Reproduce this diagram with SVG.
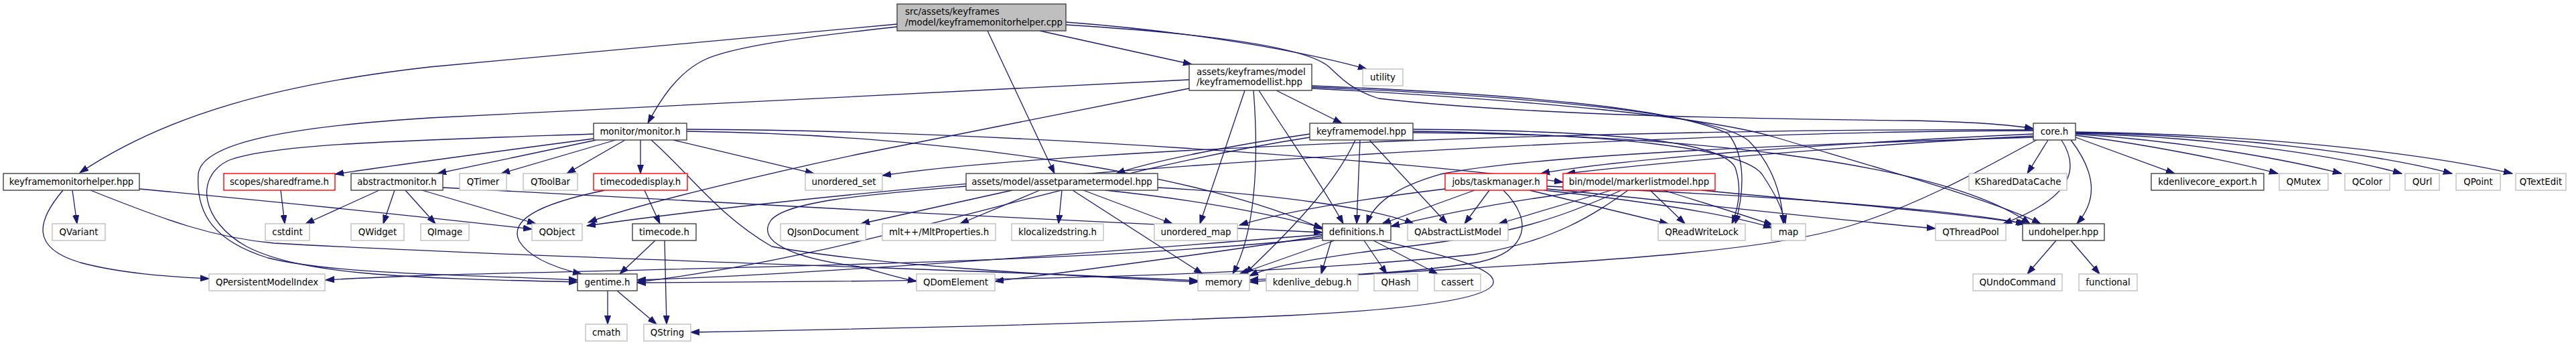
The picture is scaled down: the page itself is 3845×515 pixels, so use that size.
<svg xmlns="http://www.w3.org/2000/svg" width="3845" height="515" viewBox="0 0 3845 515">
<style>
rect{stroke-width:1.4}
.d{fill:#fff;stroke:#404040}
.x{fill:#fff;stroke:#bfbfbf}
.r{fill:#fff;stroke:#ff0000}
.m{fill:#bfbfbf;stroke:#404040}
text{font-family:"DejaVu Sans",sans-serif;font-size:13.33px;fill:#000;text-anchor:middle}
text.l{text-anchor:start}
#edges path{fill:none;stroke:#191970;stroke-width:1.3;marker-end:url(#a)}
</style>
<defs>
<marker id="a" markerWidth="14" markerHeight="10" refX="13" refY="5" orient="auto" markerUnits="userSpaceOnUse"><path d="M0,0.5 L13,5 L0,9.5 z" fill="#191970" stroke="#191970" stroke-width="1"/></marker>
</defs>
<rect width="3845" height="515" fill="#fff"/>
<g id="edges">
<path d="M1339,36 L641,100 C420,125 250,170 119,258"/>
<path d="M1339,40 C1200,55 1090,70 1050,90 C1010,110 985,150 967,184"/>
<path d="M1552,46 L1779,96"/>
<path d="M1474,46 L1574,259"/>
<path d="M1591,33 C1750,45 1920,70 2040,103"/>
<path d="M1591,37 C1800,50 1950,70 1984,100 C2005,120 2020,135 2058,147 C2300,175 2700,178 2850,180 C2950,182 3000,186 3035,192"/>
<path d="M108,284 L115,334"/>
<path d="M94,284 C55,330 45,370 120,392 C180,408 250,413 312,416"/>
<path d="M208,282 C400,300 600,320 794,342"/>
<path d="M135,284 C250,330 320,355 409,363 C800,385 1400,400 1788,419"/>
<path d="M886,207 C750,225 600,245 500,260"/>
<path d="M890,209 L653,259"/>
<path d="M919,209 L748,259"/>
<path d="M933,209 L846,259"/>
<path d="M956,209 L956,259"/>
<path d="M1005,209 L1215,259"/>
<path d="M972,209 C1030,260 1070,320 1152,368 C1300,395 1550,410 1788,421"/>
<path d="M1025,196 C1400,200 1800,260 1974,342"/>
<path d="M1025,193 C1500,195 2100,240 2333,272"/>
<path d="M886,200 C600,210 400,215 340,240 C290,265 300,330 368,368 C450,410 600,415 862,421"/>
<path d="M419,284 L425,334"/>
<path d="M566,284 L456,334"/>
<path d="M589,284 L572,334"/>
<path d="M605,284 L650,334"/>
<path d="M630,284 L800,334"/>
<path d="M661,280 C1000,300 1600,330 1974,347"/>
<path d="M962,284 L985,334"/>
<path d="M903,284 C800,305 760,330 775,360 C790,385 830,400 868,409"/>
<path d="M978,359 L925,409"/>
<path d="M992,359 L995,484"/>
<path d="M907,434 L907,484"/>
<path d="M921,434 L980,484"/>
<path d="M1905,135 L2003,184"/>
<path d="M1879,135 C1920,200 1970,270 2005,334"/>
<path d="M1871,135 C1880,250 1872,350 1840,409"/>
<path d="M1858,135 L1791,334"/>
<path d="M1775,132 L1282,230 C1150,258 950,305 878,332"/>
<path d="M1775,119 C1300,140 900,160 641,176 C420,190 300,215 296,260 C292,320 320,360 400,385 C500,410 700,410 862,418"/>
<path d="M1958,132 C2300,150 2550,175 2650,205 C2800,250 2980,300 3046,334"/>
<path d="M1958,128 C2250,140 2500,160 2580,200 C2610,240 2600,300 2590,334"/>
<path d="M1958,130 C2300,145 2560,170 2610,210 C2650,250 2660,300 2662,334"/>
<path d="M1955,200 C1850,215 1720,240 1666,259"/>
<path d="M2030,209 L2025,334"/>
<path d="M2044,209 L2160,334"/>
<path d="M2023,209 C1990,280 1920,350 1858,409"/>
<path d="M1955,205 C1600,260 1300,380 951,421"/>
<path d="M2109,198 C2500,200 2900,240 3030,334"/>
<path d="M2109,193 C2400,195 2570,210 2590,250 C2600,280 2595,310 2585,334"/>
<path d="M2109,196 C2400,200 2600,220 2630,260 C2650,290 2660,310 2665,334"/>
<path d="M1511,284 L1285,334"/>
<path d="M1552,284 L1433,334"/>
<path d="M1585,284 L1580,334"/>
<path d="M1617,284 L1750,334"/>
<path d="M1601,284 L1795,409"/>
<path d="M1650,284 C1800,300 1900,320 1974,340"/>
<path d="M1442,278 C1300,290 1170,300 1150,330 C1130,360 1180,385 1282,398 C1310,405 1340,415 1368,420"/>
<path d="M1728,280 C1900,290 2050,310 2110,334"/>
<path d="M3035,200 C2700,215 2400,240 2300,259"/>
<path d="M3035,203 C2800,215 2500,240 2338,259"/>
<path d="M3035,205 C2700,215 2300,230 2150,260 C2080,280 2050,305 2040,334"/>
<path d="M3035,195 C2500,195 1500,250 876,337"/>
<path d="M3035,194 C2500,190 1600,220 1317,262"/>
<path d="M3040,209 C2980,240 2880,300 2768,335 C2600,390 2200,395 1865,421"/>
<path d="M3057,209 L3026,259"/>
<path d="M3077,209 C3110,260 3080,300 2990,334"/>
<path d="M3091,209 C3130,260 3130,300 3100,334"/>
<path d="M3098,205 L3246,259"/>
<path d="M3098,202 C3200,215 3330,240 3400,259"/>
<path d="M3098,200 C3250,210 3400,235 3495,259"/>
<path d="M3098,199 C3300,205 3480,230 3585,259"/>
<path d="M3098,198 C3330,202 3540,228 3660,259"/>
<path d="M3098,197 C3350,200 3600,225 3750,259"/>
<path d="M2201,284 L2063,334"/>
<path d="M2223,284 L2186,334"/>
<path d="M2283,284 L2490,334"/>
<path d="M2309,282 C2500,300 2700,325 2889,341"/>
<path d="M2309,278 C2600,290 2900,310 3022,334"/>
<path d="M2244,284 C2290,330 2280,375 2209,391 C2100,410 1950,412 1865,418"/>
<path d="M2305,284 C2450,300 2580,320 2645,340"/>
<path d="M2157,282 C2050,295 1930,312 1850,336"/>
<path d="M2377,284 C2250,300 2150,320 2076,338"/>
<path d="M2405,284 L2237,334"/>
<path d="M2463,284 L2515,334"/>
<path d="M2430,284 C2380,320 2320,360 2200,380 C1800,420 1300,420 951,422"/>
<path d="M2420,284 C2320,330 2250,350 2100,368 C2000,380 1900,395 1865,412"/>
<path d="M2483,284 C2550,305 2600,320 2646,336"/>
<path d="M2540,284 C2700,300 2900,315 3025,334"/>
<path d="M1974,350 C1600,380 1200,410 951,418"/>
<path d="M1987,359 L1972,409"/>
<path d="M2036,359 L2070,409"/>
<path d="M2050,359 L2146,409"/>
<path d="M1992,359 L1850,409"/>
<path d="M1974,352 C1800,380 1600,405 1485,420"/>
<path d="M1974,355 C1600,395 1000,400 641,411 C560,414 520,416 486,418"/>
<path d="M2060,359 C2150,380 2240,400 2228,425 C2215,448 2100,462 1923,471 C1600,485 1250,492 1031,496"/>
<path d="M3069,359 L3026,409"/>
<path d="M3091,359 L3134,409"/>
</g>
<g id="n_main"><rect class="m" x="1339" y="6" width="252" height="40"/><text class="l" x="1351" y="22">src/assets/keyframes</text><text class="l" x="1351" y="38">/model/keyframemonitorhelper.cpp</text></g>
<g id="n_kml"><rect class="d" x="1775" y="96" width="183" height="39"/><text class="l" x="1786" y="112">assets/keyframes/model</text><text class="l" x="1786" y="127">/keyframemodellist.hpp</text></g>
<g id="n_utility"><rect class="x" x="2034" y="103" width="60" height="25"/><text x="2064" y="119.5">utility</text></g>
<g id="n_monitor"><rect class="d" x="886" y="184" width="139" height="25"/><text x="955.5" y="200.5">monitor/monitor.h</text></g>
<g id="n_keyframemodel"><rect class="d" x="1955" y="184" width="154" height="25"/><text x="2032" y="200.5">keyframemodel.hpp</text></g>
<g id="n_core"><rect class="d" x="3035" y="184" width="63" height="25"/><text x="3066.5" y="200.5">core.h</text></g>
<g id="n_kmh"><rect class="d" x="5" y="259" width="203" height="25"/><text x="106.5" y="275.5">keyframemonitorhelper.hpp</text></g>
<g id="n_sharedframe"><rect class="r" x="334" y="259" width="166" height="25"/><text x="417" y="275.5">scopes/sharedframe.h</text></g>
<g id="n_abstractmonitor"><rect class="d" x="524" y="259" width="137" height="25"/><text x="592.5" y="275.5">abstractmonitor.h</text></g>
<g id="n_qtimer"><rect class="x" x="686" y="259" width="70" height="25"/><text x="721" y="275.5">QTimer</text></g>
<g id="n_qtoolbar"><rect class="x" x="781" y="259" width="81" height="25"/><text x="821.5" y="275.5">QToolBar</text></g>
<g id="n_timecodedisplay"><rect class="r" x="886" y="259" width="140" height="25"/><text x="956" y="275.5">timecodedisplay.h</text></g>
<g id="n_unordered_set"><rect class="x" x="1202" y="259" width="115" height="25"/><text x="1259.5" y="275.5">unordered_set</text></g>
<g id="n_apm"><rect class="d" x="1442" y="259" width="286" height="25"/><text x="1585" y="275.5">assets/model/assetparametermodel.hpp</text></g>
<g id="n_taskmanager"><rect class="r" x="2157" y="259" width="152" height="25"/><text x="2233" y="275.5">jobs/taskmanager.h</text></g>
<g id="n_markerlist"><rect class="r" x="2333" y="259" width="227" height="25"/><text x="2446.5" y="275.5">bin/model/markerlistmodel.hpp</text></g>
<g id="n_ksdc"><rect class="x" x="2939" y="259" width="146" height="25"/><text x="3012" y="275.5">KSharedDataCache</text></g>
<g id="n_kce"><rect class="d" x="3211" y="259" width="168" height="25"/><text x="3295" y="275.5">kdenlivecore_export.h</text></g>
<g id="n_qmutex"><rect class="x" x="3402" y="259" width="73" height="25"/><text x="3438.5" y="275.5">QMutex</text></g>
<g id="n_qcolor"><rect class="x" x="3500" y="259" width="67" height="25"/><text x="3533.5" y="275.5">QColor</text></g>
<g id="n_qurl"><rect class="x" x="3590" y="259" width="51" height="25"/><text x="3615.5" y="275.5">QUrl</text></g>
<g id="n_qpoint"><rect class="x" x="3666" y="259" width="66" height="25"/><text x="3699" y="275.5">QPoint</text></g>
<g id="n_qtextedit"><rect class="x" x="3755" y="259" width="75" height="25"/><text x="3792.5" y="275.5">QTextEdit</text></g>
<g id="n_qvariant"><rect class="x" x="78" y="334" width="79" height="25"/><text x="117.5" y="350.5">QVariant</text></g>
<g id="n_cstdint"><rect class="x" x="396" y="334" width="66" height="25"/><text x="429" y="350.5">cstdint</text></g>
<g id="n_qwidget"><rect class="x" x="524" y="334" width="79" height="25"/><text x="563.5" y="350.5">QWidget</text></g>
<g id="n_qimage"><rect class="x" x="628" y="334" width="72" height="25"/><text x="664" y="350.5">QImage</text></g>
<g id="n_qobject"><rect class="x" x="794" y="334" width="75" height="25"/><text x="831.5" y="350.5">QObject</text></g>
<g id="n_timecode"><rect class="d" x="944" y="334" width="95" height="25"/><text x="991.5" y="350.5">timecode.h</text></g>
<g id="n_qjson"><rect class="x" x="1165" y="334" width="127" height="25"/><text x="1228.5" y="350.5">QJsonDocument</text></g>
<g id="n_mlt"><rect class="x" x="1317" y="334" width="169" height="25"/><text x="1401.5" y="350.5">mlt++/MltProperties.h</text></g>
<g id="n_klocal"><rect class="x" x="1510" y="334" width="137" height="25"/><text x="1578.5" y="350.5">klocalizedstring.h</text></g>
<g id="n_unordered_map"><rect class="x" x="1723" y="334" width="124" height="25"/><text x="1785" y="350.5">unordered_map</text></g>
<g id="n_definitions"><rect class="d" x="1974" y="334" width="102" height="25"/><text x="2025" y="350.5">definitions.h</text></g>
<g id="n_qalm"><rect class="x" x="2101" y="334" width="150" height="25"/><text x="2176" y="350.5">QAbstractListModel</text></g>
<g id="n_qrwl"><rect class="x" x="2475" y="334" width="130" height="25"/><text x="2540" y="350.5">QReadWriteLock</text></g>
<g id="n_map"><rect class="x" x="2644" y="334" width="51" height="25"/><text x="2669.5" y="350.5">map</text></g>
<g id="n_qthreadpool"><rect class="x" x="2889" y="334" width="105" height="25"/><text x="2941.5" y="350.5">QThreadPool</text></g>
<g id="n_undohelper"><rect class="d" x="3019" y="334" width="122" height="25"/><text x="3080" y="350.5">undohelper.hpp</text></g>
<g id="n_qpmi"><rect class="x" x="312" y="409" width="173" height="25"/><text x="398.5" y="425.5">QPersistentModelIndex</text></g>
<g id="n_gentime"><rect class="d" x="862" y="409" width="89" height="25"/><text x="906.5" y="425.5">gentime.h</text></g>
<g id="n_qdom"><rect class="x" x="1368" y="409" width="117" height="25"/><text x="1426.5" y="425.5">QDomElement</text></g>
<g id="n_memory"><rect class="x" x="1788" y="409" width="77" height="25"/><text x="1826.5" y="425.5">memory</text></g>
<g id="n_kdebug"><rect class="x" x="1890" y="409" width="137" height="25"/><text x="1958.5" y="425.5">kdenlive_debug.h</text></g>
<g id="n_qhash"><rect class="x" x="2051" y="409" width="65" height="25"/><text x="2083.5" y="425.5">QHash</text></g>
<g id="n_cassert"><rect class="x" x="2141" y="409" width="69" height="25"/><text x="2175.5" y="425.5">cassert</text></g>
<g id="n_qundo"><rect class="x" x="2945" y="409" width="133" height="25"/><text x="3011.5" y="425.5">QUndoCommand</text></g>
<g id="n_functional"><rect class="x" x="3103" y="409" width="87" height="25"/><text x="3146.5" y="425.5">functional</text></g>
<g id="n_cmath"><rect class="x" x="874" y="484" width="62" height="25"/><text x="905" y="500.5">cmath</text></g>
<g id="n_qstring"><rect class="x" x="961" y="484" width="70" height="25"/><text x="996" y="500.5">QString</text></g>
</svg>
